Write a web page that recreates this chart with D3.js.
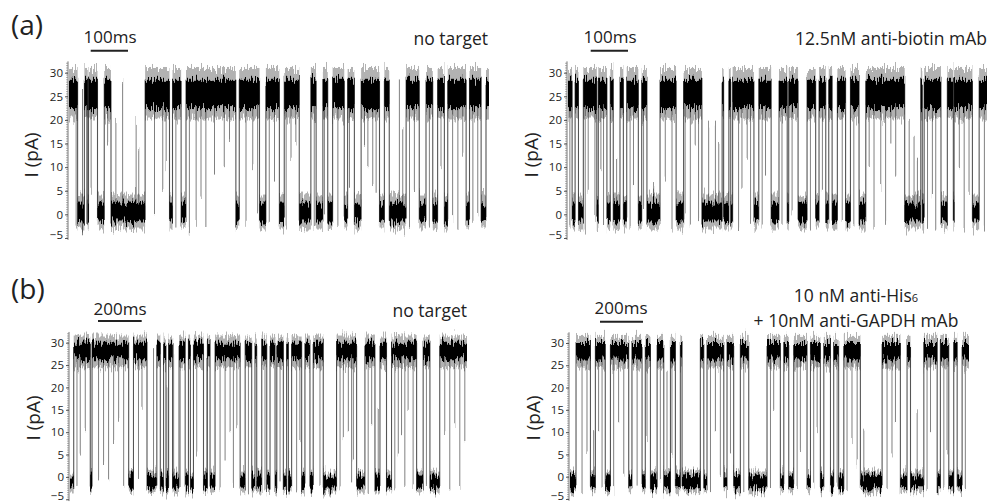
<!DOCTYPE html>
<html>
  <head>
    <title>nanopore traces</title>
    <script src="https://cdn.jsdelivr.net/npm/d3@7/dist/d3.min.js"></script>
    <style>
      body { margin: 0; background: #fff; }
      text { font-family: "Open Sans", "Noto Sans", sans-serif; fill: #222; }
    </style>
  </head>
  <body>
    <svg width="992" height="504" id="mainsvg"></svg>
    <script>
      // 数据: 开放态区间 [起, 止] (ms), 向下尖峰 [t, 最低 pA], 向上尖峰 [t, 最高 pA]
      const yTicks = [-5, 0, 5, 10, 15, 20, 25, 30];

      const aLeftOpen = [[0, 23], [41, 50], [52, 76], [94, 112], [203, 268], [276, 299], [312, 445], [454, 508],
        [525, 561], [574, 614], [645, 659], [677, 690], [703, 734], [743, 761], [779, 828], [841, 854],
        [899, 934], [952, 970], [983, 1001], [1010, 1059], [1068, 1099], [1112, 1120]];
      const aLeftDown = [[19, -3], [36, -4], [47, -2], [59, 5], [103, 15], [228, -1], [250, 5], [259, 10], [285, -3],
        [321, -4], [339, -2], [352, 4], [365, -2], [388, 8], [414, 10], [428, 16], [472, -2], [490, 10], [503, 0],
        [534, -2], [548, 8], [579, -3], [592, 12], [605, 15], [654, -3], [681, 0], [717, -2], [748, 5], [788, 15],
        [797, 10], [810, 6], [819, 5], [908, -3], [921, 5], [961, -3], [992, 10], [1023, -1], [1037, -3],
        [1050, 12], [1077, -2], [1090, 0]];
      const aLeftUp = [[125, 20], [143, 28], [179, 20], [186, 14], [881, 29], [890, 18]];

      const aRightOpen = [[0, 11], [19, 28], [41, 77], [81, 104], [113, 121], [139, 148], [157, 188], [197, 211],
        [246, 289], [309, 358], [412, 416], [430, 435], [440, 497], [510, 543], [564, 586], [590, 615],
        [639, 662], [671, 689], [697, 706], [720, 742], [755, 778], [796, 900], [943, 947], [952, 997],
        [1014, 1030], [1032, 1081], [1099, 1120]];
      const aRightDown = [[5, -3], [46, -3], [54, 5], [72, -1], [88, 10], [95, -2], [166, -3], [175, 6], [202, 2],
        [260, 8], [278, -3], [313, 0], [327, -3], [340, 15], [349, -1], [456, -3], [465, 5], [479, 12], [488, -2],
        [519, -3], [528, 8], [572, -2], [599, 0], [648, -3], [680, 5], [733, -2], [764, -3], [805, 10], [818, -3],
        [836, 6], [849, -2], [863, 15], [876, 8], [961, -2], [974, 4], [983, -3], [1046, 10], [1059, -3],
        [1072, 5], [1113, -3]];
      const aRightUp = [[130, 12], [229, 6], [376, 19], [394, 19], [403, 16], [912, 20], [925, 16], [934, 12]];

      const bLeftOpen = [[17, 93], [101, 269], [291, 353], [398, 414], [429, 440], [452, 470], [500, 528],
        [543, 552], [566, 612], [630, 642], [665, 780], [803, 833], [848, 856], [879, 902], [917, 940],
        [948, 978], [993, 1001], [1016, 1062], [1077, 1100], [1115, 1161], [1222, 1314], [1352, 1398],
        [1421, 1451], [1474, 1589], [1619, 1650], [1695, 1820]];
      const bLeftDown = [[32, -2], [47, 5], [70, 10], [131, -1], [154, 3], [177, -1], [200, 8], [223, 13], [246, -2],
        [314, 0], [330, 15], [505, -2], [581, 5], [688, -3], [711, 3], [734, 10], [749, -2], [765, 12], [818, -3],
        [894, -3], [963, -1], [1039, -3], [1054, 8], [1146, -2], [1238, -3], [1253, 8], [1276, 10], [1291, -1],
        [1299, 3], [1367, -3], [1383, 12], [1489, -3], [1505, 5], [1520, 10], [1535, -2], [1550, 15], [1573, -3],
        [1634, -2], [1718, 10], [1741, -3], [1764, 12], [1787, -2], [1810, 8]];
      const bLeftUp = [[383, 29], [444, 20], [475, 29], [627, 27], [1413, 15]];

      const bRightOpen = [[28, 95], [118, 164], [188, 273], [288, 335], [350, 374], [405, 436], [467, 490],
        [513, 521], [606, 622], [637, 715], [730, 761], [792, 831], [916, 978], [994, 1017], [1040, 1102],
        [1118, 1164], [1180, 1211], [1226, 1249], [1273, 1350], [1451, 1536], [1567, 1583], [1645, 1707],
        [1722, 1761], [1784, 1800], [1823, 1855]];
      const bRightDown = [[56, -3], [79, 5], [133, 10], [149, -2], [203, -3], [226, 12], [250, 0], [312, -2],
        [358, 8], [420, -1], [474, 5], [653, -3], [676, 10], [699, 0], [746, 5], [808, -3], [932, -2], [947, 15],
        [1056, -3], [1071, 6], [1133, -2], [1149, 10], [1242, -2], [1288, -3], [1311, 8], [1335, 3], [1474, -3],
        [1497, 5], [1513, 12], [1660, -3], [1676, 10], [1738, -2], [1753, 5], [1838, -3]];
      const bRightUp = [[110, 10], [451, 24], [1366, 11], [1614, 14]];

      const svg = d3.select("#mainsvg");

      // 噪声纹理 (只在 y 方向位移)
      const defs = svg.append("defs");
      const f = defs.append("filter").attr("id", "noise").attr("filterUnits", "userSpaceOnUse")
        .attr("x", 0).attr("y", 0).attr("width", 992).attr("height", 504);
      f.append("feTurbulence").attr("type", "fractalNoise").attr("baseFrequency", "0.9 0.06")
        .attr("numOctaves", 2).attr("seed", 4).attr("result", "t");
      f.append("feColorMatrix").attr("in", "t").attr("type", "matrix")
        .attr("values", "0 0 0 0 0.5  1 0 0 0 0  0 0 0 0 0  0 0 0 0 1").attr("result", "m");
      f.append("feDisplacementMap").attr("in", "SourceGraphic").attr("in2", "m").attr("scale", 20)
        .attr("xChannelSelector", "R").attr("yChannelSelector", "G");

      const panels = [
        { opens: aLeftOpen, down: aLeftDown, up: aLeftUp, tMax: 1120, x0: 69, x1: 489, yTop: 72.7, yBot: 238,
          core: [22.5, 28.5], fringe: [20.3, 31], bcore: [-1.5, 2.5], bfringe: [-3.2, 4.2] },
        { opens: aRightOpen, down: aRightDown, up: aRightUp, tMax: 1120, x0: 568, x1: 987, yTop: 72.7, yBot: 238,
          core: [22.5, 28.5], fringe: [20.3, 31], bcore: [-1.5, 2.5], bfringe: [-3.2, 4.2] },
        { opens: bLeftOpen, down: bLeftDown, up: bLeftUp, tMax: 1820, x0: 70, x1: 467, yTop: 342.7, yBot: 499.3,
          core: [26.3, 30], fringe: [24.5, 31.6], bcore: [-2.6, 0.3], bfringe: [-3.7, 1.4] },
        { opens: bRightOpen, down: bRightDown, up: bRightUp, tMax: 1855, x0: 570, x1: 969, yTop: 343, yBot: 499,
          core: [26.3, 30], fringe: [24.5, 31.6], bcore: [-2.6, 0.3], bfringe: [-3.7, 1.4] }
      ];

      panels.forEach(drawPanel);

      function drawPanel(p) {
        const x = d3.scaleLinear().domain([0, p.tMax]).range([p.x0, p.x1]);
        const y = d3.scaleLinear().domain([-5, 30]).range([p.yBot, p.yTop]);
        const g = svg.append("g");

        // 纵轴: 细线 + 密集小刻度
        const ax = p.x0 - 1;
        g.append("line").attr("x1", ax).attr("x2", ax).attr("y1", y(-5.4)).attr("y2", y(32.4))
          .attr("stroke", "#555").attr("stroke-width", 0.8);
        g.selectAll(".minor").data(d3.range(-5, 32.5, 0.5)).join("line")
          .attr("x1", ax - 2).attr("x2", ax).attr("y1", (d) => y(d)).attr("y2", (d) => y(d))
          .attr("stroke", "#777").attr("stroke-width", 0.6);
        g.append("g").attr("transform", `translate(${ax},0)`)
          .call(d3.axisLeft(y).tickValues(yTicks).tickSize(3).tickPadding(2))
          .call((s) => s.select(".domain").remove())
          .call((s) => s.selectAll("text").attr("font-size", 11.5).attr("fill", "#444")
            .style("font-family", '"Open Sans", sans-serif')
            .attr("dy", (d) => (d === -5 ? "0.05em" : "0.32em")))
          .call((s) => s.selectAll("line").attr("stroke", "#555"));

        // 阻塞区间 = 开放区间之间的空隙
        const gaps = [];
        let prev = 0;
        p.opens.forEach(([a, b]) => { if (a > prev) gaps.push([prev, a]); prev = b; });
        if (prev < p.tMax) gaps.push([prev, p.tMax]);
        const edges = p.opens.flatMap((d) => [d[0], d[1]]).filter((t) => t > 0 && t < p.tMax);

        const tr = g.append("g").attr("filter", "url(#noise)");
        const band = (data, lo, hi, fill, op) => tr.append("g").selectAll("rect").data(data).join("rect")
          .attr("x", (d) => x(d[0]))
          .attr("width", (d) => Math.max(1, x(d[1]) - x(d[0])))
          .attr("y", y(hi)).attr("height", y(lo) - y(hi))
          .attr("fill", fill).attr("opacity", op);

        // 跃迁线
        tr.append("g").selectAll("line").data(edges).join("line")
          .attr("x1", (d) => x(d)).attr("x2", (d) => x(d))
          .attr("y1", y(p.bcore[0])).attr("y2", y(p.core[1]))
          .attr("stroke", "#555").attr("stroke-width", 1.1);
        // 尖峰
        tr.append("g").selectAll("line").data(p.down).join("line")
          .attr("x1", (d) => x(d[0])).attr("x2", (d) => x(d[0]))
          .attr("y1", y((p.core[0] + p.core[1]) / 2)).attr("y2", (d) => y(d[1]))
          .attr("stroke", "#808080").attr("stroke-width", 1);
        tr.append("g").selectAll("line").data(p.up).join("line")
          .attr("x1", (d) => x(d[0])).attr("x2", (d) => x(d[0]))
          .attr("y1", y((p.bcore[0] + p.bcore[1]) / 2)).attr("y2", (d) => y(d[1]))
          .attr("stroke", "#808080").attr("stroke-width", 1);

        band(p.opens, p.fringe[0], p.fringe[1], "#000", 0.3);
        band(p.opens, p.core[0], p.core[1], "#000", 1);
        band(gaps, p.bfringe[0], p.bfringe[1], "#000", 0.3);
        band(gaps, p.bcore[0], p.bcore[1], "#000", 1);
      }

      // 文字与比例尺
      const T = (x, y, s, size, anchor) => svg.append("text").attr("x", x).attr("y", y)
        .attr("font-size", size).attr("text-anchor", anchor || "start").text(s);
      const bar = (x1, x2, y) => svg.append("line").attr("x1", x1).attr("x2", x2).attr("y1", y).attr("y2", y)
        .attr("stroke", "#222").attr("stroke-width", 2);

      T(11, 35, "(a)", 28);
      T(11, 299, "(b)", 28);

      T(110, 43, "100ms", 17, "middle"); bar(90.7, 128, 50.7);
      T(610, 43, "100ms", 17, "middle"); bar(590.7, 628, 50.7);
      T(120, 315, "200ms", 17, "middle"); bar(98, 141.7, 321);
      T(621, 314, "200ms", 17, "middle"); bar(600, 643, 321.7);

      T(488, 45, "no target", 17.5, "end");
      T(987, 45, "12.5nM anti-biotin mAb", 17.5, "end");
      T(467, 317, "no target", 17.5, "end");
      const his = T(856, 302, "10 nM anti-His", 17.5, "middle");
      his.append("tspan").attr("font-size", 11).text("6");
      T(856, 327, "+ 10nM anti-GAPDH mAb", 17.5, "middle");

      [[31, 155], [33, 418], [531, 155], [533, 418]].forEach(([cx, cy]) => {
        svg.append("text").attr("transform", `translate(${cx},${cy}) rotate(-90)`)
          .attr("text-anchor", "middle").attr("dy", "0.35em").attr("font-size", 19).text("I (pA)");
      });
    </script>
  </body>
</html>
